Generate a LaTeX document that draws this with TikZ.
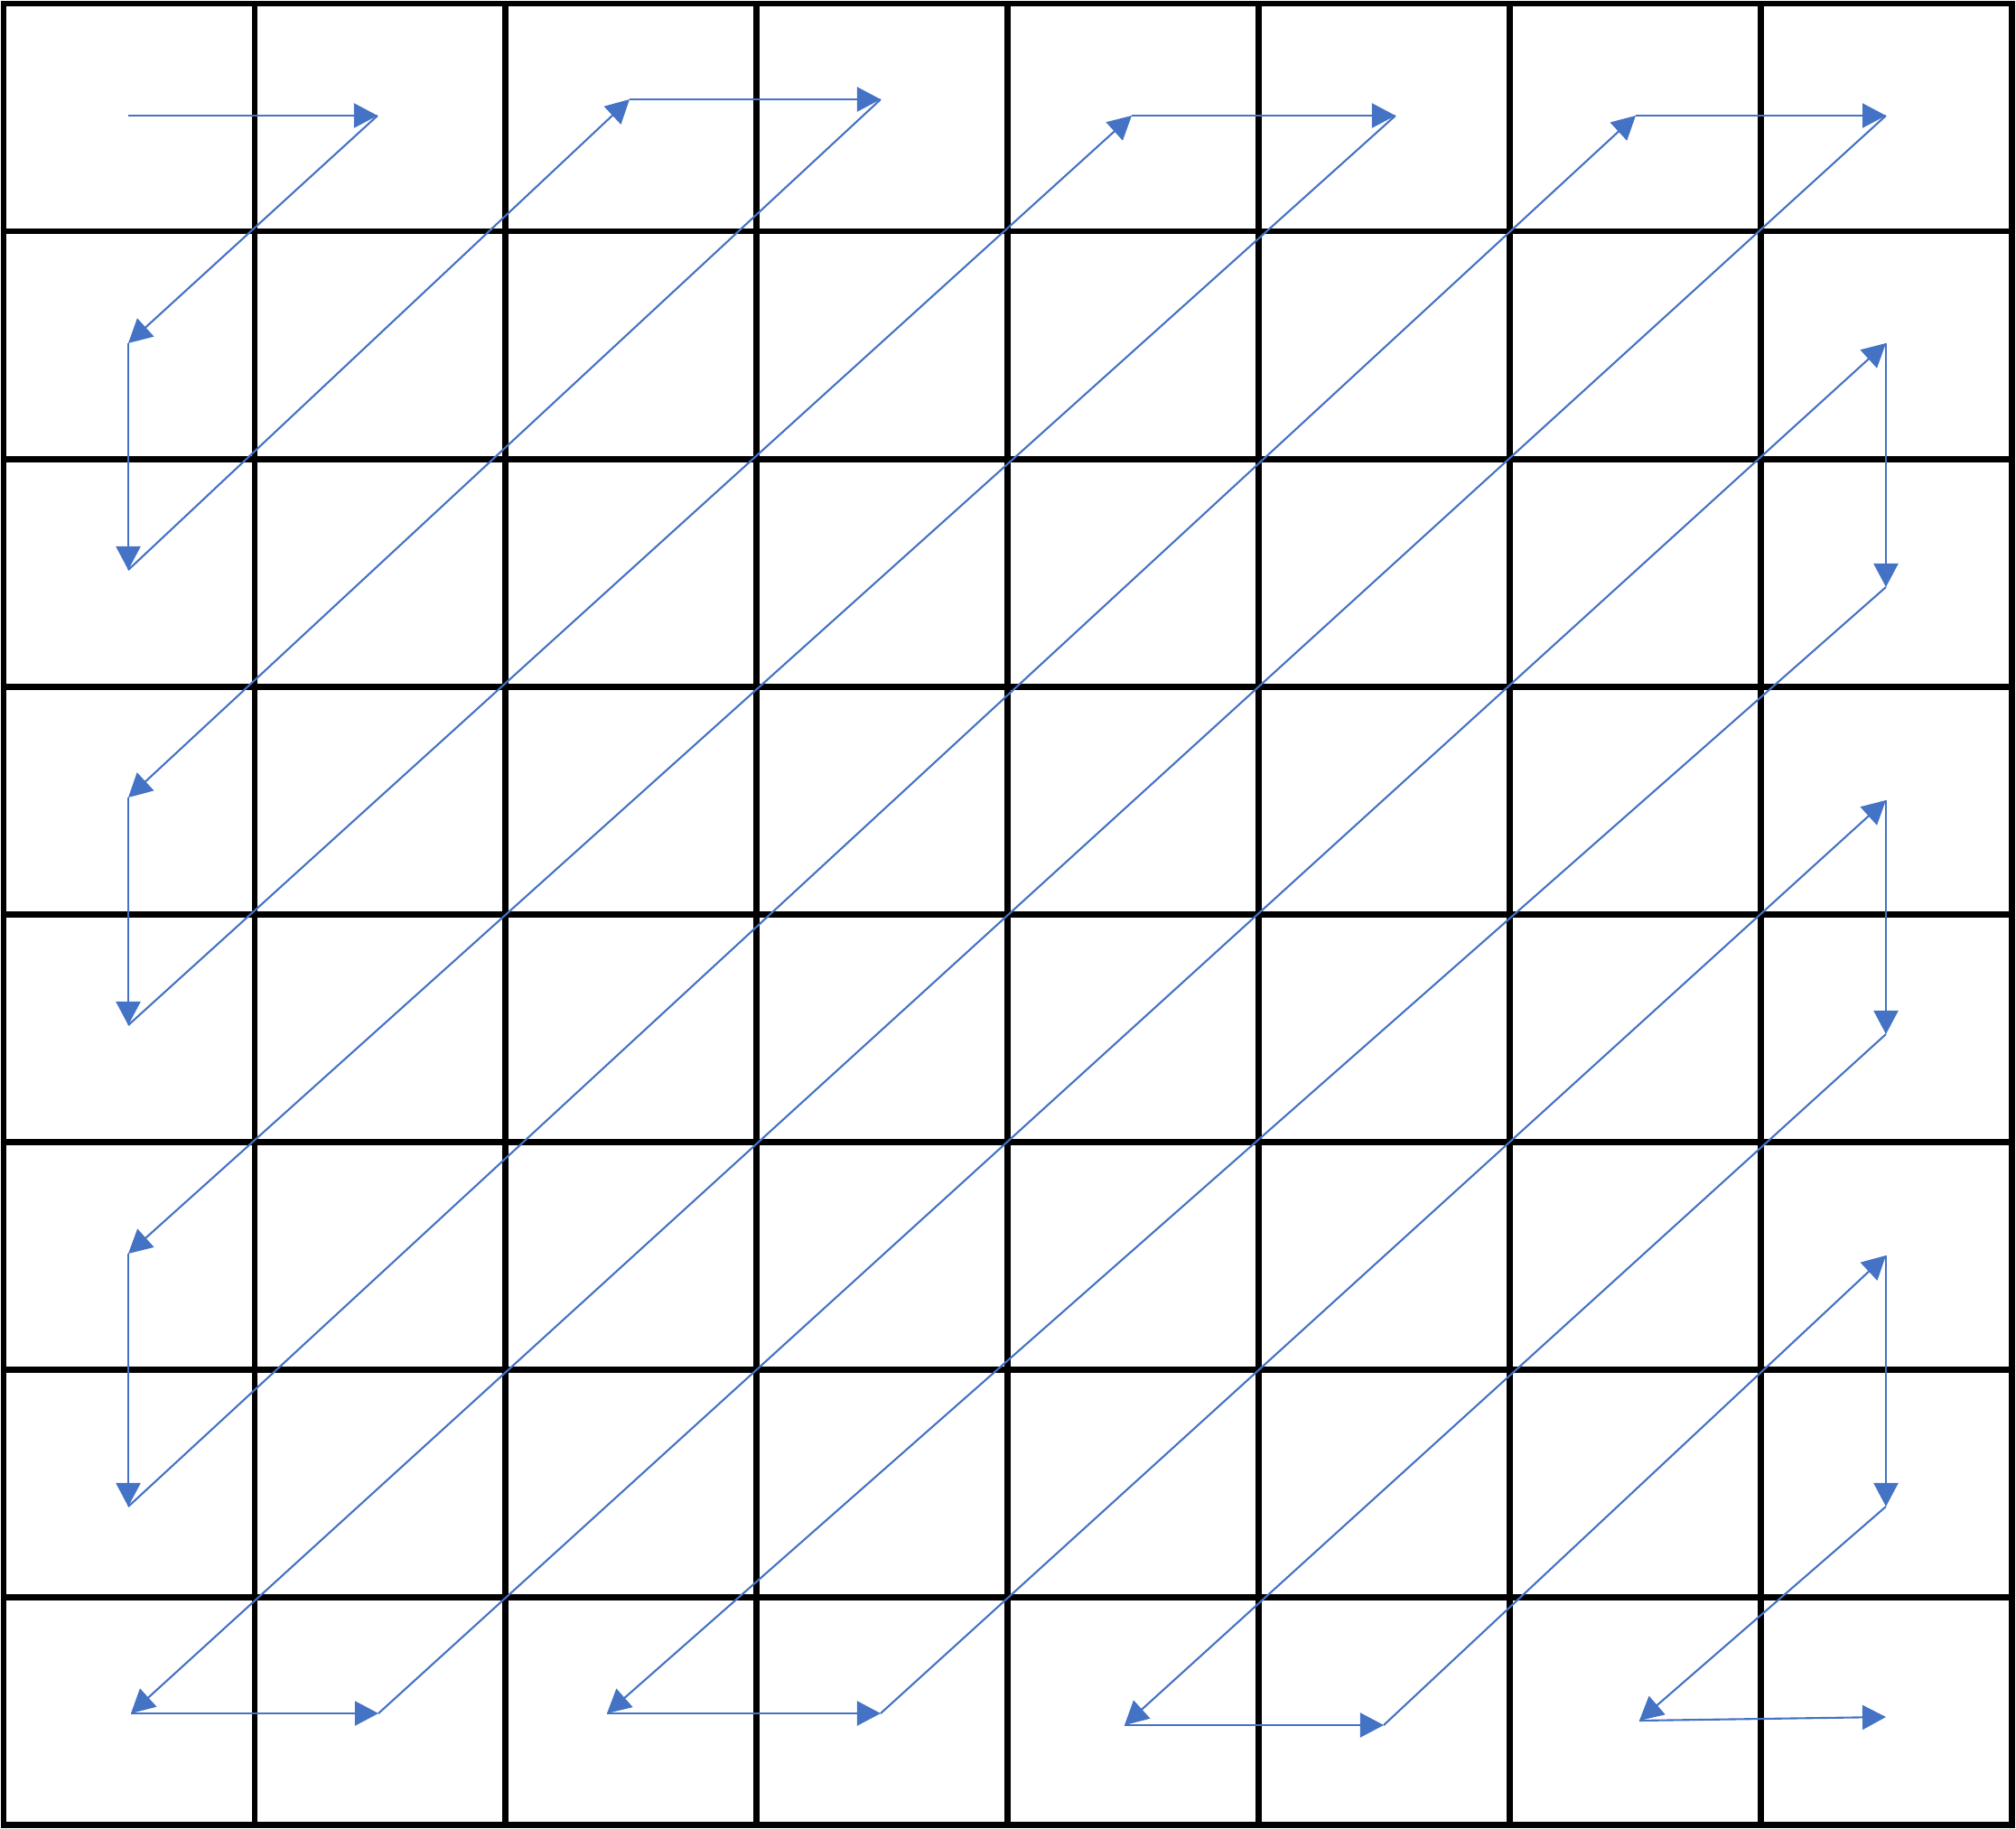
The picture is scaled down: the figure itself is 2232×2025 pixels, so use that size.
\documentclass[tikz,border=0pt]{standalone}
\definecolor{scanblue}{RGB}{68,114,196}
\usepackage{tikz}
\usetikzlibrary{arrows.meta}

\begin{document}
\begin{tikzpicture}[x=0.01cm, y=-0.01cm,
  gridline/.style={line width=1.9pt, black, line cap=rect},
  scan/.style={-{Triangle[length=2.6mm, width=2.7mm]}, line width=0.6pt, scanblue},
]
\useasboundingbox (0,0) rectangle (2232,2025);

% Grid
\foreach \i in {0,...,8} {
  \draw[gridline] ({4+277.9*\i},4) -- ({4+277.9*\i},2021);
  \draw[gridline] (4,{4+252.1*\i}) -- (2227,{4+252.1*\i});
}

% Top row
\coordinate (p00) at (142,128);
\coordinate (p10) at (418,128);
\coordinate (p20) at (697,110);
\coordinate (p30) at (975,110);
\coordinate (p40) at (1253,128);
\coordinate (p50) at (1545,128);
\coordinate (p60) at (1811,128);
\coordinate (p70) at (2088,128);

% Left column
\coordinate (p01) at (142,380);
\coordinate (p02) at (142,631);
\coordinate (p03) at (142,883);
\coordinate (p04) at (142,1135);
\coordinate (p05) at (142,1388);
\coordinate (p06) at (142,1668);
\coordinate (p07) at (145,1897);

% Right column
\coordinate (p71) at (2088,380);
\coordinate (p72) at (2088,650);
\coordinate (p73) at (2088,886);
\coordinate (p74) at (2088,1145);
\coordinate (p75) at (2088,1390);
\coordinate (p76) at (2088,1668);

% Bottom row
\coordinate (p17) at (419,1897);
\coordinate (p27) at (672,1897);
\coordinate (p37) at (975,1897);
\coordinate (p47) at (1245,1910);
\coordinate (p57) at (1532,1910);
\coordinate (p67) at (1815,1905);
\coordinate (p77) at (2088,1901);

% Zigzag scan
\foreach \a/\b in {p00/p10, p10/p01, p01/p02, p02/p20, p20/p30, p30/p03,
                   p03/p04, p04/p40, p40/p50, p50/p05, p05/p06, p06/p60,
                   p60/p70, p70/p07, p07/p17, p17/p71, p71/p72, p72/p27,
                   p27/p37, p37/p73, p73/p74, p74/p47, p47/p57, p57/p75,
                   p75/p76, p76/p67, p67/p77}
  \draw[scan] (\a) -- (\b);
\end{tikzpicture}
\end{document}
